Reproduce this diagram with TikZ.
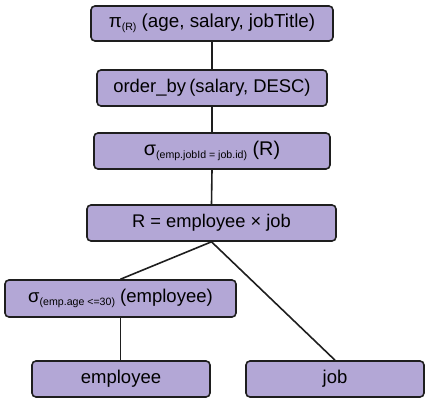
\documentclass[tikz,border=0pt]{standalone}
\usepackage{fontspec}
\setmainfont{Liberation Sans}
\definecolor{boxfill}{RGB}{179,167,214}
\definecolor{boxline}{RGB}{30,30,30}
\newcommand{\lowsub}[1]{\raisebox{-2.5pt}{\fontsize{10.6}{12}\selectfont #1}}
\begin{document}
\begin{tikzpicture}[x=1pt,y=-1pt,
  opbox/.style={draw=boxline, fill=boxfill, line width=1.6pt, rounded corners=4pt,
    minimum height=36pt, inner sep=0pt, font=\fontsize{18.5}{20}\selectfont},
  link/.style={draw=boxline, line width=1.6pt}]
\useasboundingbox (0,0) rectangle (432,401);
\node[opbox, minimum width=242pt, minimum height=35pt, font=\fontsize{18.8}{20}\selectfont] (pi) at (212,23.5) {π\lowsub{(R)} (age, salary, jobTitle)};
\node[opbox, minimum width=230pt, font=\fontsize{18.4}{20}\selectfont] (ord) at (212,88) {order\_by\hspace{0.18em}(salary, DESC)};
\node[opbox, minimum width=236pt, font=\fontsize{19.8}{20}\selectfont] (sel) at (212,151) {σ\lowsub{(emp.jobId = job.id)} (R)};
\node[opbox, minimum width=249pt, font=\fontsize{18.3}{20}\selectfont] (R) at (211.5,223) {R = employee × job};
\node[opbox, minimum width=231pt, minimum height=37pt] (selemp) at (120.5,298.5) {σ\lowsub{(emp.age <=30)} (employee)};
\node[opbox, minimum width=178pt] (emp) at (121,379) {employee};
\node[opbox, minimum width=178pt] (job) at (335,379) {job};
\path[link] (pi.south) -- (ord.north);
\path[link] (ord.south) -- (sel.north);
\path[link] (sel.south) -- (R.north);
\path[link] (R.south) -- (selemp.north);
\path[link] (R.south) -- (job.north);
\path[link] (selemp.south) -- (selemp.south |- emp.north);
\end{tikzpicture}
\end{document}
